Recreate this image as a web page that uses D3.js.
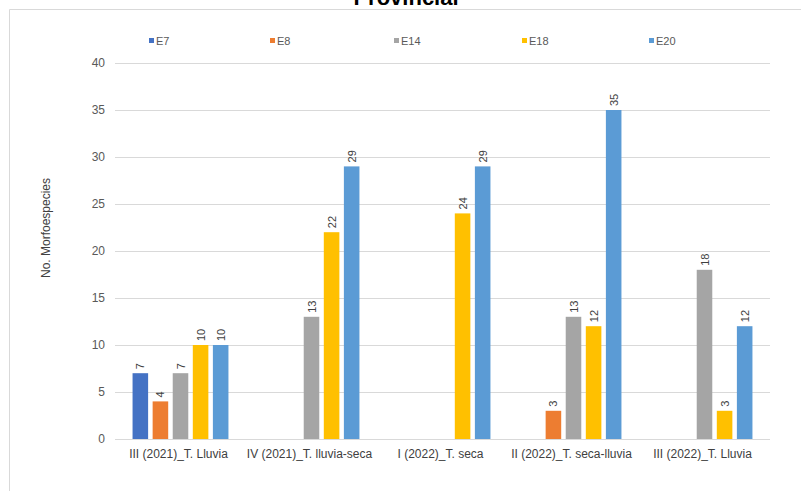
<!DOCTYPE html>
<html>
<head>
<meta charset="utf-8">
<script src="https://cdn.jsdelivr.net/npm/d3@7"></script>
<style>
  html, body { margin: 0; padding: 0; background: #fff; }
  svg { display: block; font-family: "Liberation Sans", Arial, sans-serif; }
</style>
</head>
<body>
<svg id="chart" width="801" height="491"></svg>
<script>
const title = "Provincial";
const yTitle = "No. Morfoespecies";
const categories = ["III (2021)_T. Lluvia", "IV (2021)_T. lluvia-seca", "I (2022)_T. seca", "II (2022)_T. seca-lluvia", "III (2022)_T. Lluvia"];
const series = ["E7", "E8", "E14", "E18", "E20"];
const colors = ["#4472C4", "#ED7D31", "#A5A5A5", "#FFC000", "#5B9BD5"];
const valuesE7  = [7, null, null, null, null];
const valuesE8  = [4, null, null, 3, null];
const valuesE14 = [7, 13, null, 13, 18];
const valuesE18 = [10, 22, 24, 12, 3];
const valuesE20 = [10, 29, 29, 35, 12];
const yTicks = [0, 5, 10, 15, 20, 25, 30, 35, 40];

const allValues = [valuesE7, valuesE8, valuesE14, valuesE18, valuesE20];

const svg = d3.select("#chart");

// frame
svg.append("line").attr("x1", 9.5).attr("x2", 801).attr("y1", 9.5).attr("y2", 9.5)
  .attr("stroke", "#d9d9d9").attr("stroke-width", 1);
svg.append("line").attr("x1", 9.5).attr("x2", 9.5).attr("y1", 9.5).attr("y2", 491)
  .attr("stroke", "#d9d9d9").attr("stroke-width", 1);

// title (clipped at top, as in the reference)
svg.append("text").attr("x", 406).attr("y", 5)
  .attr("text-anchor", "middle").attr("font-weight", "bold")
  .attr("font-size", 22).attr("fill", "#000").text(title);

const mLeft = 115, mRight = 770, mTop = 63, mBottom = 439;

const x0 = d3.scaleBand().domain(categories).range([mLeft, mRight]).paddingInner(0).paddingOuter(0);
const x1 = d3.scaleBand().domain(series)
  .range([x0.bandwidth() * 0.134, x0.bandwidth() * 0.866])
  .paddingInner(0.225).paddingOuter(0);
const y = d3.scaleLinear().domain([0, 40]).range([mBottom, mTop]);

// gridlines
svg.append("g").selectAll("line").data(yTicks).join("line")
  .attr("x1", mLeft).attr("x2", mRight)
  .attr("y1", d => Math.round(y(d)) + 0.5).attr("y2", d => Math.round(y(d)) + 0.5)
  .attr("stroke", "#d9d9d9").attr("stroke-width", 1);

// y axis labels
const yAxis = d3.axisLeft(y).tickValues(yTicks).tickSize(0).tickPadding(0);
const yg = svg.append("g").attr("transform", `translate(${mLeft - 10},0)`).call(yAxis);
yg.select(".domain").remove();
yg.selectAll("text").attr("font-size", 12).attr("fill", "#595959")
  .attr("font-family", "\"Liberation Sans\", Arial, sans-serif");

// x axis labels
const xAxis = d3.axisBottom(x0).tickSize(0).tickPadding(0);
const xg = svg.append("g").attr("transform", `translate(-2,${mBottom + 10})`).call(xAxis);
xg.select(".domain").remove();
xg.selectAll("text").attr("font-size", 12).attr("fill", "#404040")
  .attr("font-family", "\"Liberation Sans\", Arial, sans-serif");

// bars
const rows = [];
categories.forEach((c, ci) => {
  series.forEach((s, si) => {
    const v = allValues[si][ci];
    if (v !== null && v !== undefined) rows.push({ c, s, si, v });
  });
});

svg.append("g").selectAll("rect").data(rows).join("rect")
  .attr("x", d => x0(d.c) + x1(d.s))
  .attr("y", d => y(d.v))
  .attr("width", x1.bandwidth())
  .attr("height", d => y(0) - y(d.v))
  .attr("fill", d => colors[d.si]);

// value labels (rotated)
svg.append("g").selectAll("text").data(rows).join("text")
  .attr("transform", d => `translate(${x0(d.c) + x1(d.s) + x1.bandwidth() / 2 + 4},${y(d.v) - 4}) rotate(-90)`)
  .attr("text-anchor", "start")
  .attr("font-size", 11).attr("fill", "#404040")
  .text(d => d.v);

// legend
const legendX = [149, 270, 394, 522, 649];
const lg = svg.append("g").selectAll("g").data(series).join("g")
  .attr("transform", (d, i) => `translate(${legendX[i]},41)`);
lg.append("rect").attr("x", 0).attr("y", -3).attr("width", 5).attr("height", 5)
  .attr("fill", (d, i) => colors[i]);
lg.append("text").attr("x", 7).attr("y", 4).attr("font-size", 11).attr("fill", "#595959").text(d => d);

// y title
svg.append("text")
  .attr("transform", `translate(${50},${228}) rotate(-90)`)
  .attr("text-anchor", "middle").attr("font-size", 12).attr("fill", "#404040")
  .text(yTitle);
</script>
</body>
</html>
